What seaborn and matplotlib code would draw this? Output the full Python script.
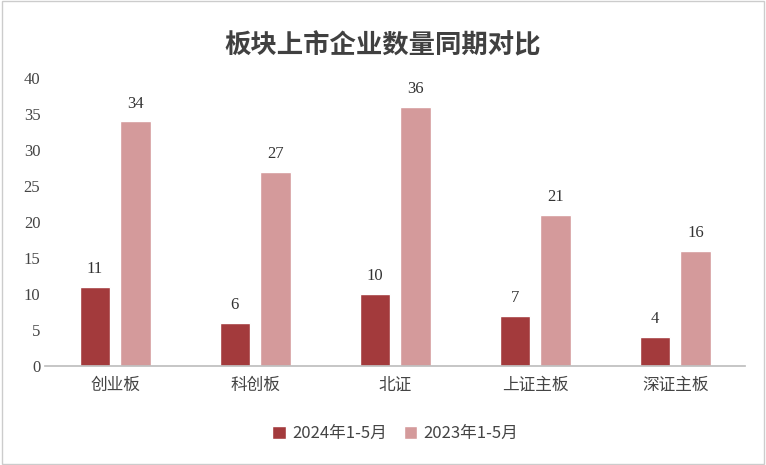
import matplotlib
matplotlib.use("Agg")
import matplotlib.pyplot as plt
import seaborn as sns
import pandas as pd

categories = ["创业板", "科创板", "北证", "上证主板", "深证主板"]
series_names = ["2024年1-5月", "2023年1-5月"]
v2024 = [11, 6, 10, 7, 4]
v2023 = [34, 27, 36, 21, 16]
colors = ["#A33A3C", "#D49A9B"]

df = pd.DataFrame({
    "板块": categories * 2,
    "期间": [series_names[0]] * 5 + [series_names[1]] * 5,
    "数量": v2024 + v2023,
})

sns.set_theme(style="white")
plt.rcParams['font.family'] = ['Noto Sans CJK SC', 'DejaVu Sans']

fig = plt.figure(figsize=(7.66, 4.65), dpi=100)
ax = fig.add_axes([0.059, 0.213, 0.914, 0.619])
sns.barplot(data=df, x="板块", y="数量", hue="期间", palette=colors,
            width=0.58, gap=0.25, ax=ax, saturation=1, legend=True)

num_font = ['Liberation Serif', 'Noto Sans CJK SC']
for cont in ax.containers:
    ax.bar_label(cont, padding=7, fontsize=12, color="#333333", family=num_font)

ax.set_xlim(-0.5, 4.5)
ax.set_ylim(0, 40)
ax.set_yticks(range(0, 41, 5))
ax.set_yticklabels([str(v) for v in range(0, 41, 5)], family=num_font, fontsize=12, color="#444444")
ax.set_xlabel("")
ax.set_ylabel("")
ax.tick_params(axis='x', labelsize=12, colors="#444444", length=0, pad=8)
ax.tick_params(axis='y', length=0)
for s in ["top", "right", "left"]:
    ax.spines[s].set_visible(False)
ax.spines["bottom"].set_color("#BFBFBF")

leg = ax.legend(loc="center", bbox_to_anchor=(0.5, -0.235), ncol=2, frameon=False,
                fontsize=12, handlelength=0.8, handleheight=0.8, columnspacing=1.0, handletextpad=0.4)
for t in leg.get_texts():
    t.set_color("#444444")

fig.suptitle("板块上市企业数量同期对比", y=0.93, fontsize=19, color="#404040", fontweight="bold")
fig.patches.append(plt.Rectangle((0.002, 0.002), 0.996, 0.996, transform=fig.transFigure,
                                 fill=False, edgecolor="#CCCCCC", linewidth=1))
fig.savefig("out.png", dpi=100)
